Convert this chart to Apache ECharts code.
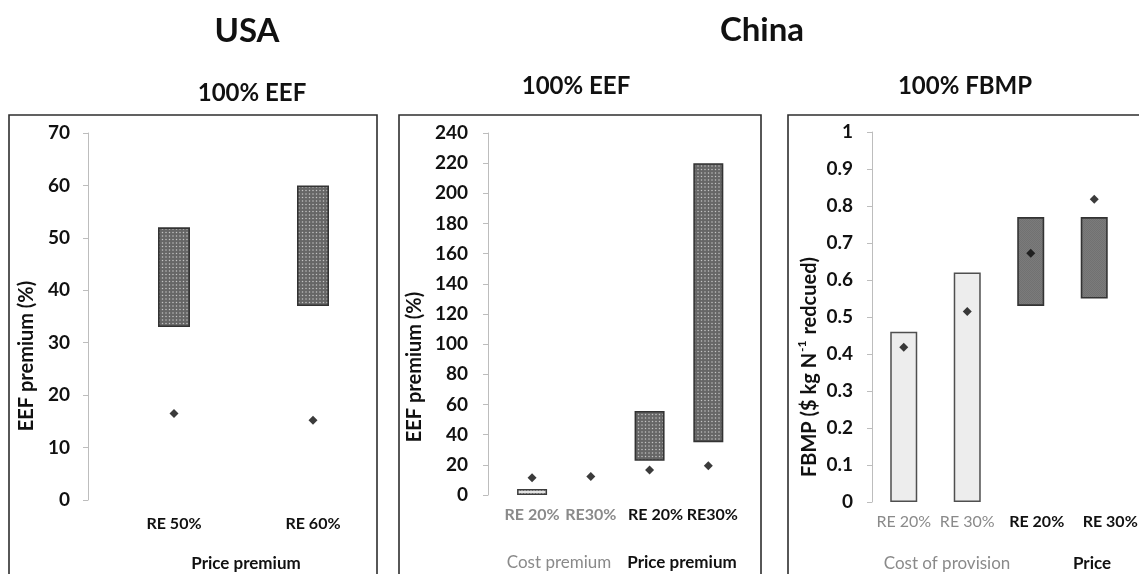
<!DOCTYPE html>
<html>
<head>
<meta charset="utf-8">
<script src="https://cdn.jsdelivr.net/npm/echarts@6/dist/echarts.min.js"></script>
<style>
  html, body { margin: 0; padding: 0; background: #fff; }
  #chart { width: 1139px; height: 574px; }
</style>
</head>
<body>
<div id="chart"></div>
<script>
// ---- data ----
const usaCats = ['RE 50%', 'RE 60%'];
const usaLow = [33, 37];
const usaHigh = [52, 60];
const usaPoint = [16.5, 15.2];

const eefCats = ['RE 20%', 'RE30%', 'RE 20%', 'RE30%'];
const eefGroup = ['cost', 'cost', 'price', 'price'];
const eefLow = [0, null, 22.7, 35];
const eefHigh = [4, null, 55.7, 220];
const eefPoint = [11.4, 12.3, 16.5, 19.4];

const fbmpCats = ['RE 20%', 'RE 30%', 'RE 20%', 'RE 30%'];
const fbmpGroup = ['cost', 'cost', 'price', 'price'];
const fbmpLow = [0, 0, 0.53, 0.55];
const fbmpHigh = [0.46, 0.62, 0.77, 0.77];
const fbmpPoint = [0.418, 0.515, 0.672, 0.818];

const usaAxis = [0, 70, 10];      // min, max, step
const eefAxis = [0, 240, 20];
const fbmpAxis = [0, 1, 0.1];

const countryTitles = ['USA', 'China'];
const panelTitles = ['100% EEF', '100% EEF', '100% FBMP'];
const usaGroups = ['Price premium'];
const eefGroups = ['Cost premium', 'Price premium'];
const fbmpGroups = ['Cost of provision', 'Price'];

// ---- fill patterns ----
function tile(size, bg, draw) {
  const c = document.createElement('canvas');
  c.width = c.height = size;
  const g = c.getContext('2d');
  g.fillStyle = bg;
  g.fillRect(0, 0, size, size);
  draw(g);
  return { image: c, repeat: 'repeat' };
}
const darkDots = tile(7, '#666666', g => {
  g.fillStyle = '#c4c4c4';
  [[1.5, 1.5], [5, 1.5], [1.5, 5], [5, 5]].forEach(([x, y]) => {
    g.beginPath(); g.arc(x, y, 0.75, 0, Math.PI * 2); g.fill();
  });
});
const lightDots = tile(3, '#e4e4e4', g => {
  g.fillStyle = '#8e8e8e';
  g.fillRect(1, 1, 1, 1);
});
const greyGrain = tile(2, '#7b7b7b', g => {
  g.fillStyle = '#717171';
  g.fillRect(0, 0, 1, 1);
  g.fillRect(1, 1, 1, 1);
});

const darkStyle = { color: darkDots, borderColor: '#333333', borderWidth: 1.6 };
const lightDotStyle = { color: lightDots, borderColor: '#3c3c3c', borderWidth: 1.5 };
const paleStyle = { color: '#ededed', borderColor: '#4f4f4f', borderWidth: 1.5 };
const greyStyle = { color: greyGrain, borderColor: '#333333', borderWidth: 1.6 };

const FONT = 'Lato, "Open Sans", sans-serif';
const GREY = '#8a8a8a';
const INK = '#111';

// ---- builders ----
function yAxisFor(idx, range, offset, margin) {
  return {
    type: 'value', gridIndex: idx, min: range[0], max: range[1], interval: range[2],
    offset: offset,
    axisLine: { show: true, lineStyle: { color: '#bdbdbd', width: 1 } },
    axisTick: { show: true, length: 5, lineStyle: { color: '#bdbdbd' } },
    splitLine: { show: false },
    axisLabel: { color: INK, fontFamily: FONT, fontWeight: 'bold', fontSize: 19, margin: margin }
  };
}
function xAxisFor(idx, cats, styleOf, margin) {
  return {
    type: 'category', gridIndex: idx,
    data: cats.map((c, k) => ({ value: c, textStyle: styleOf(k) })),
    axisLine: { show: false }, axisTick: { show: false },
    axisLabel: { interval: 0, fontFamily: FONT, fontSize: 16, margin: margin }
  };
}
function rangeSeries(idx, low, high, styleOf, width) {
  return [
    {
      type: 'bar', xAxisIndex: idx, yAxisIndex: idx, stack: 'r' + idx, barWidth: width, silent: true,
      itemStyle: { color: 'transparent' },
      data: low.map(v => (v == null ? '-' : v))
    },
    {
      type: 'bar', xAxisIndex: idx, yAxisIndex: idx, stack: 'r' + idx, barWidth: width,
      data: high.map((h, k) => (h == null ? '-' : { value: h - low[k], itemStyle: styleOf(k) }))
    }
  ];
}
function pointSeries(idx, pts) {
  return {
    type: 'scatter', xAxisIndex: idx, yAxisIndex: idx, data: pts, z: 5,
    symbol: 'diamond', symbolSize: 9, itemStyle: { color: '#0a0a0a' }
  };
}
function label(text, x, y, size, opts) {
  opts = opts || {};
  return {
    type: 'text', x: x, y: y, rotation: opts.rotate ? Math.PI / 2 : 0, z: 10,
    style: {
      text: text, x: 0, y: 0,
      fill: opts.color || INK,
      font: (opts.weight || 'bold') + ' ' + size + 'px ' + FONT,
      align: 'center', verticalAlign: 'middle',
      textAlign: 'center', textVerticalAlign: 'middle',
      rich: opts.rich
    }
  };
}
function frame(x, y, w, h) {
  return { type: 'rect', shape: { x: x, y: y, width: w, height: h }, z: 1,
           style: { fill: 'none', stroke: '#2e2e2e', lineWidth: 1.6 } };
}

// price-side category labels sit a little right of their bars
const eefShift = [0, 0, 12, 8];
const fbmpShift = [0, 0, 12, 32];

const chart = echarts.init(document.getElementById('chart'), null, { renderer: 'canvas' });

chart.setOption({
  animation: false,
  backgroundColor: '#ffffff',
  grid: [
    { left: 104.5, top: 133, width: 278, height: 367 },
    { left: 502.7, top: 133, width: 235, height: 362 },
    { left: 872, top: 132, width: 268, height: 370 }
  ],
  yAxis: [
    yAxisFor(0, usaAxis, 16.5, 18),
    yAxisFor(1, eefAxis, 14.7, 20),
    yAxisFor(2, fbmpAxis, 0, 19)
  ],
  xAxis: [
    xAxisFor(0, usaCats, () => ({ color: INK, fontWeight: 'bold' }), 16),
    xAxisFor(1, eefCats, k => ({
      color: eefGroup[k] === 'cost' ? GREY : INK, fontWeight: 'bold',
      padding: [0, 0, 0, eefShift[k]]
    }), 12),
    xAxisFor(2, fbmpCats, k => (fbmpGroup[k] === 'cost'
      ? { color: GREY, fontWeight: 'normal', padding: [0, 0, 0, fbmpShift[k]] }
      : { color: INK, fontWeight: 'bold', padding: [0, 0, 0, fbmpShift[k]] }), 12)
  ],
  series: [
    ...rangeSeries(0, usaLow, usaHigh, () => darkStyle, 32),
    pointSeries(0, usaPoint),
    ...rangeSeries(1, eefLow, eefHigh, k => (eefGroup[k] === 'cost' ? lightDotStyle : darkStyle), 30),
    pointSeries(1, eefPoint),
    ...rangeSeries(2, fbmpLow, fbmpHigh, k => (fbmpGroup[k] === 'cost' ? paleStyle : greyStyle), 27),
    pointSeries(2, fbmpPoint)
  ],
  graphic: [
    frame(9, 115, 368, 480),
    frame(399, 115, 362, 480),
    frame(788, 115, 400, 480),
    label(countryTitles[0], 247, 31, 33),
    label(countryTitles[1], 762, 30, 33),
    label(panelTitles[0], 252, 93, 24),
    label(panelTitles[1], 576, 86, 24),
    label(panelTitles[2], 965, 86, 24),
    label('EEF premium (%)', 27, 356, 20, { rotate: true }),
    label('EEF premium (%)', 415, 367, 20, { rotate: true }),
    label('{a|FBMP ($ kg N}{s|-1}{a| redcued)}', 808, 367, 20, {
      rotate: true,
      rich: {
        a: { font: 'bold 20px ' + FONT, fill: INK, lineHeight: 24, verticalAlign: 'bottom' },
        s: { font: 'bold 12px ' + FONT, fill: INK, lineHeight: 24, verticalAlign: 'top', padding: [0, 1, 0, 1] }
      }
    }),
    label(usaGroups[0], 246, 564, 17),
    label(eefGroups[0], 559, 563, 17, { color: GREY, weight: 'normal' }),
    label(eefGroups[1], 682, 563, 17),
    label(fbmpGroups[0], 947, 564, 17, { color: GREY, weight: 'normal' }),
    label(fbmpGroups[1], 1092, 564, 17)
  ]
});
</script>
</body>
</html>
